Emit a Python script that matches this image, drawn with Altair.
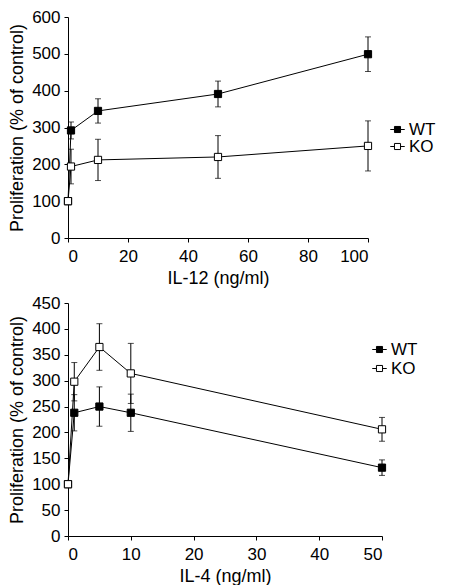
import altair as alt
import pandas as pd

# ---- data ----
groups = ["WT", "KO"]

il12_dose = [0, 1, 10, 50, 100]
il12_wt = [100, 292, 345, 391, 499]
il12_wt_err = [0, 23, 33, 35, 47]
il12_ko = [100, 194, 212, 220, 250]
il12_ko_err = [0, 47, 56, 58, 68]

il4_dose = [0, 1, 5, 10, 50]
il4_wt = [100, 238, 250, 238, 132]
il4_wt_err = [0, 35, 38, 36, 15]
il4_ko = [100, 298, 365, 314, 206]
il4_ko_err = [0, 37, 45, 58, 23]

il12_xticks = [0, 20, 40, 60, 80, 100]
il12_yticks = [0, 100, 200, 300, 400, 500, 600]
il4_xticks = [0, 10, 20, 30, 40, 50]
il4_yticks = [0, 50, 100, 150, 200, 250, 300, 350, 400, 450]

FONT = "Liberation Sans"
LEGEND_SYMBOL = "M-1,0H-0.42M0.42,0H1M-0.42,-0.42H0.42V0.42H-0.42Z"
YTITLE = "Proliferation (% of control)"


def build_df(dose, wt, wt_err, ko, ko_err):
    rows = []
    for g, vals, errs in (("WT", wt, wt_err), ("KO", ko, ko_err)):
        for d, v, e in zip(dose, vals, errs):
            rows.append({"dose": d, "value": v, "lo": v - e, "hi": v + e,
                         "err": e, "group": g,
                         "ord": 0 if g == "WT" else 1})
    return pd.DataFrame(rows)


def panel(df, xtitle, xticks, yticks, width, height, lx, ly, rowpad):
    xscale = alt.Scale(domain=[xticks[0], xticks[-1]], nice=False, zero=False)
    yscale = alt.Scale(domain=[yticks[0], yticks[-1]], nice=False)
    xaxis = alt.Axis(values=xticks, format="d", labelOverlap=False)
    yaxis = alt.Axis(values=yticks, format="d", labelOverlap=False)

    def X():
        return alt.X("dose:Q", title=xtitle, scale=xscale, axis=xaxis)

    def Y(field):
        return alt.Y(field, title=YTITLE, scale=yscale, axis=yaxis)

    base = alt.Chart(df)
    errdf = base.transform_filter("datum.err > 0")
    rule = errdf.mark_rule(color="black", strokeWidth=1).encode(
        x=X(), y=Y("lo:Q"), y2="hi:Q", detail="group:N")
    cap_lo = errdf.mark_tick(color="black", thickness=1, size=6,
                             orient="horizontal").encode(x=X(), y=Y("lo:Q"))
    cap_hi = errdf.mark_tick(color="black", thickness=1, size=6,
                             orient="horizontal").encode(x=X(), y=Y("hi:Q"))
    line = base.mark_line(color="black", strokeWidth=1).encode(
        x=X(), y=Y("value:Q"), detail="group:N")
    pts = base.mark_point(shape="square", filled=True, size=52, stroke="black",
                          strokeWidth=1, opacity=1).encode(
        x=X(), y=Y("value:Q"),
        fill=alt.Fill("group:N",
                      scale=alt.Scale(domain=groups, range=["black", "white"]),
                      legend=alt.Legend(title=None, orient="none",
                                        legendX=lx, legendY=ly,
                                        symbolType=LEGEND_SYMBOL,
                                        symbolSize=210,
                                        symbolStrokeColor="black",
                                        symbolStrokeWidth=1,
                                        labelFont=FONT, labelFontSize=17,
                                        labelColor="black", labelOffset=3,
                                        rowPadding=rowpad, padding=0)),
        order=alt.Order("ord:Q"))
    return alt.layer(rule, cap_lo, cap_hi, line, pts).properties(
        width=width, height=height)


df12 = build_df(il12_dose, il12_wt, il12_wt_err, il12_ko, il12_ko_err)
df4 = build_df(il4_dose, il4_wt, il4_wt_err, il4_ko, il4_ko_err)

top = panel(df12, "IL-12 (ng/ml)", il12_xticks, il12_yticks, 300, 221,
            321, 104, -4)
bottom = panel(df4, "IL-4 (ng/ml)", il4_xticks, il4_yticks, 314, 233,
               303, 38, 1)

chart = alt.vconcat(top, bottom, spacing=7).resolve_scale(
    fill="independent").resolve_legend(fill="independent").properties(
    padding={"left": 0, "top": 0, "right": 0, "bottom": 0}
).configure_view(stroke=None).configure_axis(
    grid=False, domainColor="black", tickColor="black", tickSize=4,
    labelFont=FONT, labelFontSize=17, labelColor="black",
    titleFont=FONT, titleFontSize=18, titleFontWeight="normal",
    titleColor="black", domainWidth=1, tickWidth=1
).configure_axisX(labelPadding=6, titlePadding=5).configure_axisY(
    labelPadding=4, titlePadding=5)

chart.save("out.html", embed_options={"renderer": "svg", "actions": False})
